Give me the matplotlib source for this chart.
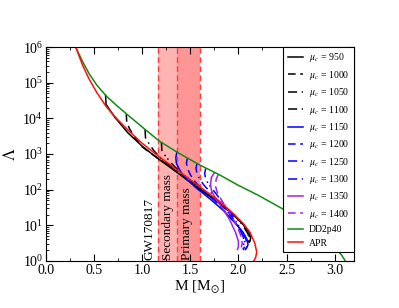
# plot.py
#
# Tidal deformability Lambda versus stellar mass M for hybrid EOS
# models (different mu_c), compared with DD2p40 and APR, with the
# GW170817 primary / secondary mass ranges shaded.

import numpy as np
import matplotlib
matplotlib.use("Agg")
import matplotlib.pyplot as plt


# =========================
# Data (mass in M_sun, log10 of Lambda)
# =========================

DD2_M = [0.31, 0.38, 0.45, 0.53, 0.63, 0.74, 0.84, 1.03, 1.18, 1.37, 1.60,
         1.80, 2.00, 2.20, 2.40, 2.60, 2.75, 2.90, 3.00, 3.07, 3.11]
DD2_LOGL = [6.0, 5.6, 5.25, 4.93, 4.62, 4.35, 4.12, 3.69, 3.36, 3.04, 2.69,
            2.42, 2.12, 1.85, 1.55, 1.25, 0.97, 0.65, 0.38, 0.17, 0.0]

APR_M = [0.31, 0.38, 0.45, 0.53, 0.63, 0.74, 0.85, 1.00, 1.15, 1.39, 1.60,
         1.80, 1.95, 2.05, 2.12, 2.17, 2.19, 2.18, 2.16]
APR_LOGL = [6.0, 5.5, 5.1, 4.72, 4.32, 3.98, 3.68, 3.30, 2.98, 2.50, 2.08,
            1.68, 1.32, 1.05, 0.80, 0.50, 0.25, 0.10, 0.0]

MU_C = [950, 1000, 1050, 1100, 1150, 1200, 1250, 1300, 1350, 1400]

HYB_M = [
    [0.62, 0.625, 0.66, 0.72, 0.85, 1.00, 1.15, 1.39, 1.60, 1.80, 1.95, 2.05, 2.11, 2.13, 2.12],
    [0.835, 0.84, 0.87, 0.93, 1.00, 1.10, 1.20, 1.39, 1.60, 1.80, 1.95, 2.05, 2.11, 2.12, 2.11],
    [1.03, 1.035, 1.07, 1.12, 1.20, 1.39, 1.60, 1.80, 1.95, 2.05, 2.10, 2.12, 2.11],
    [1.20, 1.205, 1.24, 1.30, 1.39, 1.60, 1.80, 1.95, 2.04, 2.10, 2.11, 2.10],
    [1.36, 1.35, 1.355, 1.38, 1.42, 1.48, 1.56, 1.70, 1.85, 1.97, 2.05, 2.09, 2.10, 2.08],
    [1.47, 1.46, 1.47, 1.50, 1.55, 1.62, 1.72, 1.85, 1.96, 2.04, 2.08, 2.09, 2.07],
    [1.57, 1.56, 1.57, 1.60, 1.65, 1.72, 1.82, 1.93, 2.01, 2.06, 2.07, 2.05],
    [1.66, 1.65, 1.66, 1.69, 1.74, 1.82, 1.92, 2.00, 2.05, 2.06, 2.04],
    [1.75, 1.72, 1.71, 1.72, 1.76, 1.83, 1.91, 1.97, 2.00, 2.00, 1.99],
    [1.79, 1.77, 1.76, 1.78, 1.83, 1.90, 1.97, 2.02, 2.04, 2.03],
]
HYB_LOGL = [
    [4.65, 4.40, 4.25, 4.02, 3.60, 3.22, 2.90, 2.43, 2.00, 1.62, 1.28, 1.02, 0.82, 0.68, 0.55],
    [4.12, 3.90, 3.70, 3.45, 3.20, 3.00, 2.82, 2.44, 2.01, 1.63, 1.29, 1.03, 0.82, 0.66, 0.52],
    [3.69, 3.45, 3.30, 3.10, 2.86, 2.45, 2.02, 1.64, 1.30, 1.03, 0.80, 0.62, 0.50],
    [3.34, 3.10, 2.95, 2.75, 2.50, 2.03, 1.64, 1.30, 1.02, 0.76, 0.58, 0.45],
    [3.05, 2.90, 2.75, 2.60, 2.42, 2.25, 2.05, 1.75, 1.40, 1.05, 0.80, 0.60, 0.45, 0.35],
    [2.88, 2.75, 2.60, 2.42, 2.22, 2.02, 1.78, 1.42, 1.10, 0.82, 0.60, 0.40, 0.30],
    [2.73, 2.60, 2.45, 2.28, 2.10, 1.90, 1.60, 1.25, 0.90, 0.62, 0.45, 0.30],
    [2.60, 2.45, 2.30, 2.15, 1.98, 1.70, 1.35, 1.00, 0.70, 0.50, 0.35],
    [2.47, 2.35, 2.15, 1.98, 1.75, 1.50, 1.15, 0.80, 0.55, 0.40, 0.32],
    [2.42, 2.30, 2.12, 1.92, 1.68, 1.40, 1.05, 0.75, 0.50, 0.38],
]

# GW170817 mass ranges
SECONDARY = (1.16, 1.36)
PRIMARY = (1.36, 1.60)


# =========================
# Styles
# =========================

HYB_COLORS = ["black"] * 4 + ["#0000ff"] * 4 + ["#a020f0"] * 2
HYB_STYLES = ["-", (0, (5, 3)), (0, (6, 3, 1, 3)), (0, (6, 3, 1, 2, 1, 3))] * 2 + ["-", (0, (5, 3))]


def main():

    plt.rcParams["font.family"] = ["Liberation Serif", "DejaVu Serif"]
    plt.rcParams["mathtext.fontset"] = "stix"

    fig = plt.figure(figsize=(3.99, 3.08), dpi=100)
    ax = fig.add_axes([0.115, 0.153, 0.772, 0.694])

    # shaded GW170817 bands
    ax.axvspan(*SECONDARY, color="#ffb4b4", lw=0, zorder=0)
    ax.axvspan(*PRIMARY, color="#ff9696", lw=0, zorder=0)
    for x in (SECONDARY[0], SECONDARY[1], PRIMARY[1]):
        ax.axvline(x, color="#ff3c3c", ls=(0, (4, 2.5)), lw=1.0, zorder=1)

    ax.text(1.08, 1.08, "GW170817", rotation=90, fontsize=9.5,
            ha="center", va="bottom")
    ax.text(1.27, 1.08, "Secondary mass", rotation=90, fontsize=9.5,
            ha="center", va="bottom")
    ax.text(1.47, 1.08, "Primary mass", rotation=90, fontsize=9.5,
            ha="center", va="bottom")

    # hybrid curves
    for i, mu in enumerate(MU_C):
        ax.plot(HYB_M[i], 10 ** np.array(HYB_LOGL[i]), color=HYB_COLORS[i],
                ls=HYB_STYLES[i], lw=1.1, label=rf"$\mu_c$ = {mu}")

    ax.plot(DD2_M, 10 ** np.array(DD2_LOGL), color="#138a13", lw=1.1,
            label="DD2p40")
    ax.plot(APR_M, 10 ** np.array(APR_LOGL), color="#ff1010", lw=1.1,
            label="APR")

    ax.set_yscale("log")
    ax.set_xlim(0, 3.2)
    ax.set_ylim(1, 1e6)
    ax.set_xticks(np.arange(0, 3.01, 0.5))
    ax.set_xticks(np.arange(0, 3.2, 0.25), minor=True)
    ax.set_xticklabels([f"{v:.1f}" for v in np.arange(0, 3.01, 0.5)])
    ax.set_yticks([10.0 ** k for k in range(7)])
    ax.tick_params(which="both", direction="in", top=True, right=True,
                   labelsize=10, pad=2)
    ax.tick_params(which="major", length=5)
    ax.tick_params(which="minor", length=2.5)

    ax.set_xlabel(r"M [M$_{\odot}$]", fontsize=11, labelpad=1)
    ax.set_ylabel(r"$\Lambda$", fontsize=12, labelpad=2)

    leg = ax.legend(loc="upper right", fontsize=7, frameon=True,
                    fancybox=False, edgecolor="black", framealpha=1,
                    borderaxespad=0, handlelength=1.6, labelspacing=0.45,
                    borderpad=0.45, handletextpad=0.6)
    leg.get_frame().set_linewidth(0.8)

    fig.savefig("out.png", dpi=100)


if __name__ == "__main__":
    main()
